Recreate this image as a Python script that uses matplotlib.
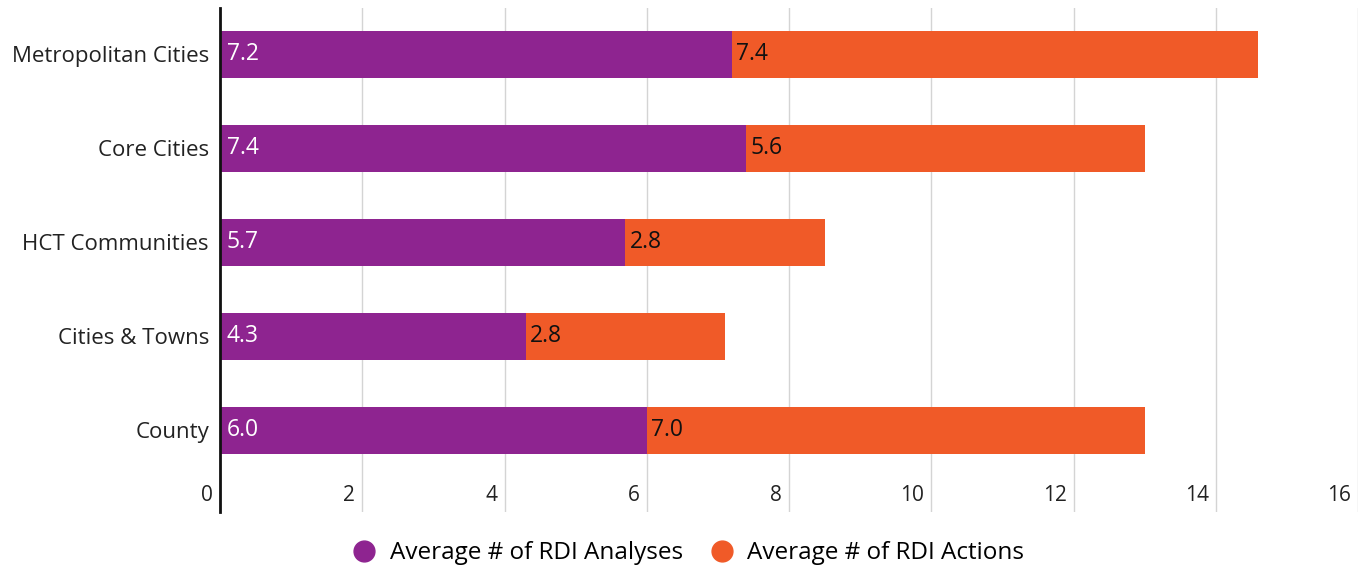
import matplotlib.pyplot as plt
from matplotlib.lines import Line2D

plt.rcParams['font.family'] = ['Open Sans', 'DejaVu Sans']

categories = ['Metropolitan Cities', 'Core Cities', 'HCT Communities', 'Cities & Towns', 'County']
analyses = [7.2, 7.4, 5.7, 4.3, 6.0]
actions = [7.4, 5.6, 2.8, 2.8, 7.0]
xticks = [0, 2, 4, 6, 8, 10, 12, 14, 16]

purple = '#8E2490'
orange = '#F05A28'

fig = plt.figure(figsize=(13.64, 5.70), dpi=100)
ax = fig.add_axes([0.1613, 0.1018, 0.8343, 0.8842])

y = list(range(len(categories)))
ax.barh(y, analyses, height=0.5, color=purple)
ax.barh(y, actions, left=analyses, height=0.5, color=orange)

for i in y:
    ax.annotate(f'{analyses[i]:.1f}', (0, i), xytext=(5, 0), textcoords='offset points',
                ha='left', va='center', color='white', fontsize=16.5)
    ax.annotate(f'{actions[i]:.1f}', (analyses[i], i), xytext=(3, 0), textcoords='offset points',
                ha='left', va='center', color='#111111', fontsize=16.5)

ax.set_xlim(0, 16)
ax.set_ylim(4.87, -0.49)
ax.set_yticks(y)
ax.set_yticklabels(categories, fontsize=16, color='#222222')
ax.tick_params(axis='y', length=0, pad=8)

# x tick labels sit inside the axes, right-aligned to their gridline
ax.set_xticks(xticks)
ax.set_xticklabels([])
ax.tick_params(axis='x', length=0)
for t in xticks:
    ax.annotate(str(t), (t, 0), xycoords=('data', 'axes fraction'), xytext=(-5, 4),
                textcoords='offset points', ha='right', va='bottom', fontsize=15, color='#222222')

ax.grid(axis='x', color='#d4d4d4', linewidth=1)
ax.set_axisbelow(True)
for s in ['top', 'right', 'bottom']:
    ax.spines[s].set_visible(False)
ax.spines['left'].set_linewidth(2)
ax.spines['left'].set_color('#111111')

handles = [Line2D([], [], marker='o', linestyle='', markersize=15, color=purple),
           Line2D([], [], marker='o', linestyle='', markersize=15, color=orange)]
fig.legend(handles, ['Average # of RDI Analyses', 'Average # of RDI Actions'],
           loc='lower center', ncol=2, frameon=False, fontsize=17.5,
           bbox_to_anchor=(0.5, -0.03), handletextpad=0.05, columnspacing=0.6)

fig.savefig('out.png', dpi=100)
